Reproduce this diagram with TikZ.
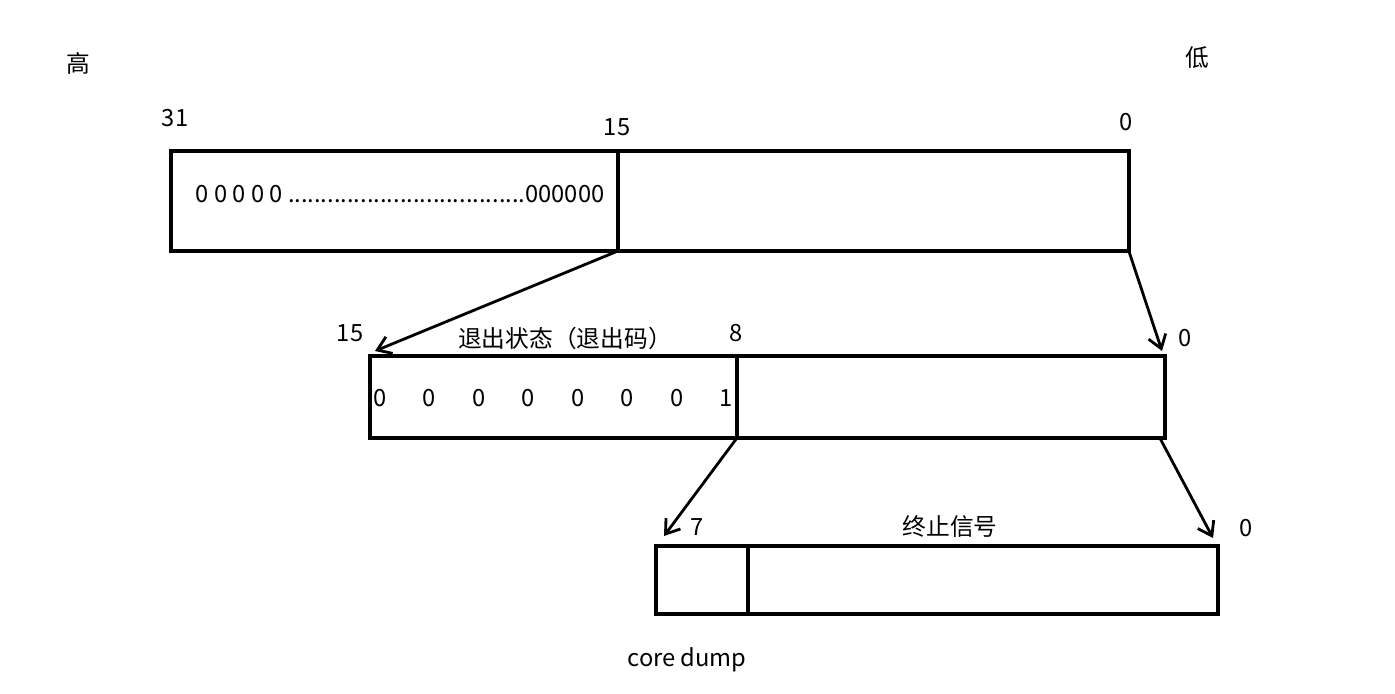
\documentclass[tikz,border=0pt]{standalone}
\usepackage{fontspec}
\setmainfont{Noto Sans CJK SC}
\usetikzlibrary{arrows.meta, positioning}
\definecolor{cline}{HTML}{000000}
\tikzset{
  every picture/.style={font=\fontsize{13.5}{16}\selectfont, line width=2.1pt},
  field/.style={draw=cline, fill=white, inner sep=0pt, outer sep=0pt, anchor=north west},
  arrow/.style={-{Straight Barb[length=2.6mm, width=3.6mm]}, draw=cline, line width=1.6pt, shorten <=1pt},
  bit/.style={inner sep=0pt},
}
\begin{document}
\begin{tikzpicture}[x=0.02cm, y=-0.02cm]
  \useasboundingbox (0,0) rectangle (1395,693);
  \node[bit] (high) at (78,63) {高};
  \node[bit] (low) at (1197,58) {低};
  % 32 bit status word
  \node[field, minimum width=8.94cm, minimum height=2cm] (hi) at (171,151) {};
  \node[field, minimum width=10.22cm, minimum height=2cm, right=0pt of hi] (lo) {};
  \node[bit] (n31) at (175,118) {31};
  \node[bit] (n15a) at (617,127) {15};
  \node[bit] (n0a) at (1126,122) {0};
  \node[bit] (zeros) at (400,194) {0 0 0 0 0 ....................................000000};
  % low 16 bits
  \node[field, minimum width=7.34cm, minimum height=1.64cm] (st) at (370,356) {};
  \node[field, minimum width=8.56cm, minimum height=1.64cm, right=0pt of st] (sg) {};
  \node[bit] (n15b) at (350,333) {15};
  \node[bit] (stname) at (565,338) {退出状态（退出码）};
  \node[bit] (n8) at (736,333) {8};
  \node[bit] (n0b) at (1185,338) {0};
  \foreach \b [count=\i from 0] in {0,0,0,0,0,0,0,1}
    \node[bit] (b\i) at (380+49.5*\i,398) {\b};
  % low 8 bits
  \node[field, minimum width=1.84cm, minimum height=1.36cm] (core) at (656,546) {};
  \node[field, minimum width=9.4cm, minimum height=1.36cm, right=0pt of core] (sig) {};
  \node[bit] (n7) at (697,527) {7};
  \node[bit] (signame) at (950,527) {终止信号};
  \node[bit] (n0c) at (1246,528) {0};
  \node[bit] (dump) at (687,660) {core dump};
  \coordinate (t1) at (375,351);
  \coordinate (t2) at (1162,351);
  \coordinate (t3) at (664,536);
  \coordinate (t4) at (1213,538);
  \draw[arrow] (hi.south east) -- (t1);
  \draw[arrow] (lo.south east) -- (t2);
  \draw[arrow] (st.south east) -- (t3);
  \draw[arrow] ([xshift=-0.1cm]sg.south east) -- (t4);
\end{tikzpicture}
\end{document}
